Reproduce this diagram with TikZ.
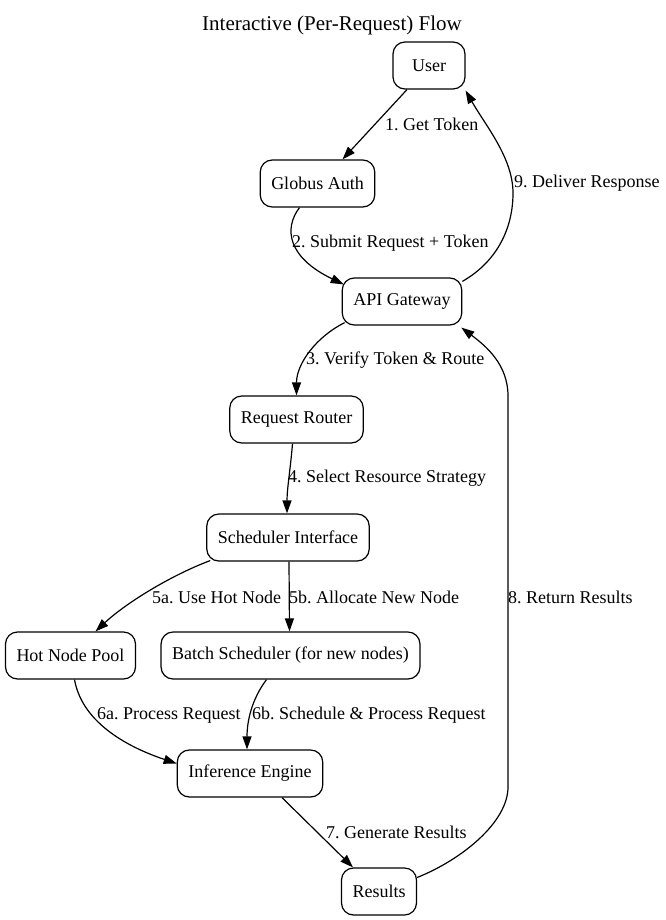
\documentclass[tikz,border=0pt]{standalone}
\usepackage{fontspec}
\setmainfont{Liberation Serif}
\usetikzlibrary{arrows.meta,calc}
\frenchspacing

\tikzset{
	box/.style={draw=black, rounded corners=12pt, line width=1.2pt, minimum width=72pt, minimum height=47pt, inner xsep=11pt, font=\fontsize{18}{21}\selectfont},
	lbl/.style={anchor=west, inner sep=0pt, font=\fontsize{18}{21}\selectfont},
	flow/.style={-{Triangle[length=13pt,width=9pt]}, line width=1.2pt}
}

\begin{document}
\begin{tikzpicture}[x=1pt,y=-1pt]
		\useasboundingbox (0,0) rectangle (665,920);

		\node [font=\fontsize{21}{25}\selectfont] (title) at (332,25) {Interactive (Per-Request) Flow};

		\node [box] (user) at (429,65.5) {User};
		\node [box] (auth) at (317.5,183.5) {Globus Auth};
		\node [box] (gateway) at (402,301.5) {API Gateway};
		\node [box] (router) at (296.5,419.5) {Request Router};
		\node [box] (sched) at (288,537.5) {Scheduler Interface};
		\node [box] (hotpool) at (70.5,655.5) {Hot Node Pool};
		\node [box] (batch) at (290.5,655.5) {Batch Scheduler (for new nodes)};
		\node [box] (engine) at (250,773.5) {Inference Engine};
		\node [box] (results) at (379,891.5) {Results};

		% bends of the two return edges
		\coordinate (retlow) at (508,787);
		\coordinate (rethigh) at (508,396);
		\coordinate (delmid) at (513,193);

		\draw [flow] ($(user.south)+(-22,0)$) -- ($(auth.north)+(25,0)$);
		\draw [flow] ($(auth.south)+(-18,0)$) .. controls +(-16,21) and +(-56,-27) .. ($(gateway.north west)+(2,7)$);
		\draw [flow] ($(gateway.south west)+(3,-3)$) .. controls +(-28,14) and +(0,-32) .. (router.north);
		\draw [flow] ($(router.south)+(-4,0)$) .. controls +(-2,25) and +(0,-25) .. ($(sched.north)+(-1,0)$);
		\draw [flow] ($(sched.south west)+(4,-1)$) .. controls +(-40,15) and +(30,-28) .. ($(hotpool.north)+(25,0)$);
		\draw [flow] ($(sched.south)+(1,0)$) -- ($(batch.north)+(-1,0)$);
		\draw [flow] ($(hotpool.south)+(4,0)$) .. controls +(8,45) and +(-45,-15) .. ($(engine.west)+(0,-10)$);
		\draw [flow] ($(batch.south)+(-24,0)$) .. controls +(-15,20) and +(0,-28) .. ($(engine.north)+(-3,0)$);
		\draw [flow] ($(engine.south)+(32,0)$) -- ($(results.north)+(-26,0)$);
		\draw [flow] ($(results.east)+(0,-14)$) .. controls +(45,-18) and +(0,35) .. (retlow) -- (rethigh) .. controls +(0,-32) and +(24,18) .. ($(gateway.south east)+(-1,2)$);
		\draw [flow] ($(gateway.north east)+(0,4)$) .. controls +(35,-20) and +(0,35) .. (delmid) .. controls +(0,-35) and +(20,35) .. ($(user.south east)+(0,1)$);

		\node [lbl] (l1) at (385,124) {1. Get Token};
		\node [lbl] (l2) at (292,243) {2. Submit Request + Token};
		\node [lbl] (l3) at (306,360) {3. Verify Token \& Route};
		\node [lbl] (l4) at (288,478) {4. Select Resource Strategy};
		\node [lbl] (l5a) at (152,597) {5a. Use Hot Node};
		\node [lbl] (l5b) at (289,597) {5b. Allocate New Node};
		\node [lbl] (l6a) at (97,715) {6a. Process Request};
		\node [lbl] (l6b) at (252,715) {6b. Schedule \& Process Request};
		\node [lbl] (l7) at (326,832) {7. Generate Results};
		\node [lbl] (l8) at (508,597) {8. Return Results};
		\node [lbl] (l9) at (514,183) {9. Deliver Response};
	\end{tikzpicture}
\end{document}
